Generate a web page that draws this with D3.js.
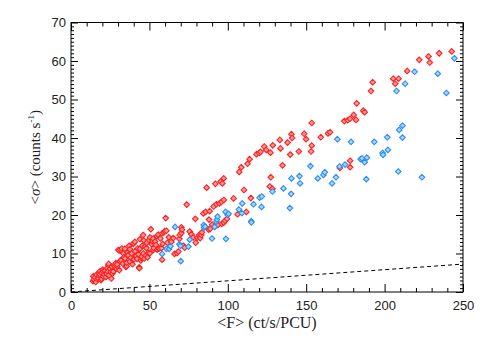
<!DOCTYPE html>
<html>
<head>
<meta charset="utf-8">
<script src="https://cdn.jsdelivr.net/npm/d3@7"></script>
<style>
  body { margin: 0; background: #fff; }
</style>
</head>
<body>
<div id="chart"></div>
<script>
// <F> (ct/s/PCU) vs <sigma> (counts/s)
const redData = [
  [14,2.8],[14.2,4.1],[14.5,3.2],[15.3,3.8],[15.8,2.6],[16.3,4.5],[16.8,3.3],[17.4,3.6],[17.8,4.9],[18.1,4.2],
  [18.5,5.4],[18.5,4.5],[19.2,3.1],[19.5,3.4],[19.6,4.9],[20.2,5.8],[20.6,4.0],[20.6,5.4],[21.2,4.6],[21.7,5.5],
  [22.3,3.9],[22.7,4.9],[22.8,4.7],[23.1,6.2],[23.5,5.3],[23.8,7.0],[24.0,7.3],[24.2,4.3],[24.9,6.0],[25.3,5.1],
  [25.7,3.5],[26,6.6],[26.5,4.8],[27,5.3],[27.6,6.9],[28.1,6.6],[28.6,7.5],[29.1,6.0],[29.5,6.7],[29.5,7.2],
  [30.2,10.9],[30.8,5.7],[30.8,10.8],[31.2,8.0],[31.9,8.3],[32.3,10.7],[32.4,11.3],[33.0,7.4],[33.4,10.0],[33.8,9.0],
  [34.4,8.7],[34.4,11.2],[35.0,6.5],[35.4,6.7],[35.5,7.6],[36.0,10.2],[36.6,9.6],[37.1,12.0],[37.5,7.9],[37.6,11.1],
  [38.2,8.9],[38.7,10.0],[39.2,7.2],[39.7,8.4],[39.7,12.5],[39.8,12.6],[40.2,8.5],[40.7,13.0],[41.0,10.6],[41.5,9.4],
  [42.1,8.6],[42.5,11.3],[43.0,9.8],[43.5,6.4],[43.6,6.2],[43.9,11.2],[44,13.7],[44.5,8.2],[44.9,8.8],[45.1,9.2],
  [45.5,12.0],[46,14.8],[46.1,10.0],[46.4,13.4],[46.8,8.7],[47.2,11.8],[47.7,9.4],[48.1,11.4],[48.3,12.8],[48.8,9.0],
  [49.3,10.2],[49.8,13.5],[50.3,10.1],[50.4,14.2],[50.9,16.3],[51.5,12.4],[52.0,13.2],[52.4,13.9],[52.5,10.9],[52.8,11.4],
  [53.6,13.1],[54.2,12.2],[54.7,14.5],[55.0,11.0],[55.6,14.9],[55.7,11.3],[56.4,11.3],[57,13.9],[57.7,11.4],[58.1,15.2],
  [58.1,8.4],[58.5,12.5],[59.2,15.5],[59.8,15.8],[60.4,19.2],[60.8,15.9],
  [61.5,12.8],[62.4,14.2],[64,13.0],[65.2,14.0],[66,9.9],[67.6,10.1],[68.5,10.5],[69.1,13.8],[69.3,14.8],[70.4,15.3],
  [70.4,16.8],[70.8,16.2],[71.7,12.0],[72.5,11.5],[73.8,22.7],[75.7,15.7],[76.8,15.0],[78.0,14.2],[79.3,19.0],[79.5,12.8],
  [80.6,14.1],[81.7,14.8],[82.4,14.0],[83.1,14.8],[83.5,15.5],[84.4,20.4],[85.9,20.8],[86.5,27.1],[87.8,16.2],[88,18.8],
  [88.4,21.0],[88.8,16.4],[90.0,17.5],[91,22.2],[91.6,17.0],[92.1,28.1],[92.7,22.8],[93.7,17.4],[94.6,23.0],[95.4,28.7],
  [95.9,23.4],[96.1,17.7],[96.5,28.2],[97.4,29.5],[97.4,18.0],[97.5,23.9],[98.2,18.5],[99.5,19.0],
  [103.7,24.3],[106.2,20.2],[107.3,31.2],[108.6,32.4],[110.3,26.5],[111.8,20.8],[112.6,33.3],[113.9,34.5],[114.7,24.4],[118.3,35.8],
  [120.0,36.1],[120.9,36.4],[123.2,37.8],[124.5,36.9],[126.8,27.4],[127.2,36.2],[127.4,29.8],[128.5,26.8],[128.7,38.1],[133.2,39.5],
  [133.6,37.3],[134.9,32.9],[138.1,38.8],[139.8,35.7],[140.6,41.0],[141,40.0],[145.3,36.5],[148.7,41.1],[149.9,39.7],[153.1,36.5],
  [153.5,38.0],[153.5,43.9],[159.3,40.2],[163.9,41.2],[165.2,41.5],[171.5,32.2],[174.3,44.4],[176.5,44.6],[177.9,45.0],[178.0,34.1],
  [178.0,32.4],[180.3,46.0],[181.8,44.7],[182.2,49.0],[186.4,47.1],[187.3,46.7],[191.3,52.2],[192.4,54.5],[205.5,55.4],[206.8,54.1],
  [208.9,55.4],[214.4,57.4],[222.1,60.3],[228,61.2],[228.8,59.6],[234.8,62.0],[242.8,62.5]
];
const blueData = [
  [58.1,9.9],[60.9,11.2],[62.6,11.2],[63.4,11.9],[66.4,16.9],[69.1,12.4],[69.8,12.0],[70,8.0],[74.9,11.8],[75.7,13.6],
  [84.6,17.4],[84.8,16.7],[85.5,17.0],[89.9,13.9],[91.6,16.9],[92.7,18.3],[93.1,18.8],[93.5,19.6],[98.6,20.8],[98.8,13.8],
  [99.9,20.0],[100.5,20.3],[107.1,21.4],[109,20.5],[109.2,23.0],[115,18.4],[115,18.1],[116.4,22.8],[120.3,24.5],[121.5,22.1],
  [121.7,24.8],[128.5,26.1],[135.5,26.9],[139.6,21.8],[140.4,25.5],[140.6,29.5],[145.7,30.1],[146.1,28.2],[152.7,32.7],[157.4,29.5],
  [161,30.4],[161.8,31.1],[166.5,28.2],[169,29.8],[169.9,39.7],[171.2,32.6],[174.8,33.1],[178.6,39.0],[184.7,34.5],[185.6,34.7],
  [187.3,33.7],[188.3,29.3],[188.7,34.9],[193.4,39.0],[198.7,36.1],[199,35.6],[201.7,40.2],[202.1,36.9],[207.6,52.2],[208.7,31.3],
  [209.3,42.1],[211.4,43.2],[211.4,40.1],[213.1,54.1],[219.1,57.2],[223.8,29.8],[233.9,56.7],[239.4,51.7],[244.5,60.7]
];
const refLineF = [0, 250];
const refLineSigma = [0, 7.25];
const xMajor = [0, 50, 100, 150, 200, 250];
const yMajor = [0, 10, 20, 30, 40, 50, 60, 70];

const W = 485, H = 338;
const svg = d3.select('#chart').append('svg').attr('width', W).attr('height', H);

const x = d3.scaleLinear().domain([0, 250]).range([71, 463]);
const y = d3.scaleLinear().domain([0, 70]).range([292, 22.5]);

const xMinor = d3.range(0, 251, 10).filter(d => d % 50 !== 0);
const yMinor = d3.range(0, 71, 1).filter(d => d % 10 !== 0);

function styleAxis(g) {
  g.select('.domain').remove();
  g.selectAll('line').attr('stroke', '#000');
  g.selectAll('text').attr('font-family', 'Liberation Sans, Arial, sans-serif')
    .attr('font-size', 13).attr('fill', '#222');
}

// bottom
svg.append('g').attr('transform', `translate(0,${y(0)})`)
  .call(d3.axisBottom(x).tickValues(xMajor).tickSize(-8).tickPadding(9).tickFormat(d3.format('d')))
  .call(styleAxis);
svg.append('g').attr('transform', `translate(0,${y(0)})`)
  .call(d3.axisBottom(x).tickValues(xMinor).tickSize(-4).tickFormat(''))
  .call(styleAxis);
// top
svg.append('g').attr('transform', `translate(0,${y(70)})`)
  .call(d3.axisTop(x).tickValues(xMajor).tickSize(-8).tickFormat(''))
  .call(styleAxis);
svg.append('g').attr('transform', `translate(0,${y(70)})`)
  .call(d3.axisTop(x).tickValues(xMinor).tickSize(-4).tickFormat(''))
  .call(styleAxis);
// left
svg.append('g').attr('transform', `translate(${x(0)},0)`)
  .call(d3.axisLeft(y).tickValues(yMajor).tickSize(-7).tickPadding(5).tickFormat(d3.format('d')))
  .call(styleAxis);
svg.append('g').attr('transform', `translate(${x(0)},0)`)
  .call(d3.axisLeft(y).tickValues(yMinor).tickSize(-3).tickFormat(''))
  .call(styleAxis);
// right
svg.append('g').attr('transform', `translate(${x(250)},0)`)
  .call(d3.axisRight(y).tickValues(yMajor).tickSize(-7).tickFormat(''))
  .call(styleAxis);
svg.append('g').attr('transform', `translate(${x(250)},0)`)
  .call(d3.axisRight(y).tickValues(yMinor).tickSize(-3).tickFormat(''))
  .call(styleAxis);

// frame
svg.append('rect')
  .attr('x', x(0)).attr('y', y(70))
  .attr('width', x(250) - x(0)).attr('height', y(0) - y(70))
  .attr('fill', 'none').attr('stroke', '#000').attr('stroke-width', 1);

// dashed reference line
svg.append('line')
  .attr('x1', x(refLineF[0])).attr('y1', y(refLineSigma[0]))
  .attr('x2', x(refLineF[1])).attr('y2', y(refLineSigma[1]))
  .attr('stroke', '#000').attr('stroke-width', 1).attr('stroke-dasharray', '4,3');

// diamonds
const diamond = 'M0,-2.8L2.8,0L0,2.8L-2.8,0Z';

svg.append('g').selectAll('path')
  .data(redData)
  .enter().append('path')
    .attr('d', diamond)
    .attr('transform', d => `translate(${x(d[0])},${y(d[1])})`)
    .attr('fill', '#ff9a9a')
    .attr('stroke', '#ff2020')
    .attr('stroke-width', 1.1);

svg.append('g').selectAll('path')
  .data(blueData)
  .enter().append('path')
    .attr('d', diamond)
    .attr('transform', d => `translate(${x(d[0])},${y(d[1])})`)
    .attr('fill', '#a8d4ff')
    .attr('stroke', '#2b8ff0')
    .attr('stroke-width', 1.1);

// axis titles
svg.append('text')
  .attr('x', (x(0) + x(250)) / 2).attr('y', 328)
  .attr('text-anchor', 'middle')
  .attr('font-family', 'Liberation Serif, Times New Roman, serif')
  .attr('font-size', 16).attr('fill', '#222')
  .text('<F> (ct/s/PCU)');

const yt = svg.append('text')
  .attr('transform', `translate(40,${(y(0) + y(70)) / 2}) rotate(-90)`)
  .attr('text-anchor', 'middle')
  .attr('font-family', 'Liberation Serif, Times New Roman, serif')
  .attr('font-size', 15).attr('fill', '#222');
yt.append('tspan').text('<');
yt.append('tspan').attr('font-style', 'italic').text('σ');
yt.append('tspan').text('> (counts s');
yt.append('tspan').attr('font-size', 9).attr('dy', -6).text('-1');
yt.append('tspan').attr('dy', 6).text(')');
</script>
</body>
</html>
